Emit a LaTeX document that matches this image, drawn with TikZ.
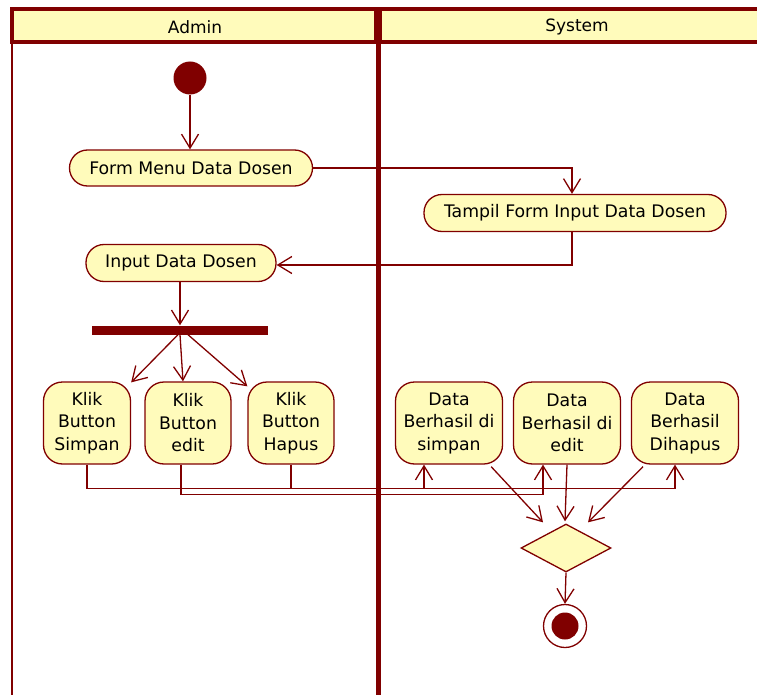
\documentclass[tikz,border=0pt]{standalone}
\usepackage{fontspec}
\setmainfont{DejaVu Sans}
\usetikzlibrary{arrows.meta,shapes.geometric}
\definecolor{umlred}{HTML}{800000}
\definecolor{umlfill}{HTML}{FFFBBB}
\tikzset{
  action/.style={draw=umlred, fill=umlfill, line width=1.3pt, rounded corners=18pt,
    align=center, inner sep=0pt, font=\fontsize{17.3}{22.5}\selectfont},
  tall/.style={action, rounded corners=19pt, minimum height=82pt},
  arr/.style={draw=umlred, line width=1.3pt, -{Straight Barb[length=14pt,width=17pt,line width=1.3pt]}},
  lanehead/.style={draw=umlred, fill=umlfill, line width=3.5pt},
}
\begin{document}
\begin{tikzpicture}[x=1pt,y=-1pt]
\useasboundingbox (0,0) rectangle (757,695);
\begin{scope}
\clip (0,0) rectangle (757,695);
% swimlanes
\draw[lanehead] (12,9) rectangle (376,42);
\draw[lanehead] (380,9) rectangle (770,42);
\draw[umlred, line width=2.5pt] (12,42) -- (12,700);
\draw[umlred, line width=5pt] (378,7.25) -- (378,700);
\node[font=\fontsize{17}{20}\selectfont] (hAdmin) at (195,27) {Admin};
\node[font=\fontsize{17}{20}\selectfont] (hSystem) at (577,27) {System};
\end{scope}

% start node
\node[circle, fill=umlred, minimum size=33pt, inner sep=0pt] (start) at (190,78) {};

% actions
\node[action, minimum width=243pt, minimum height=36pt] (form) at (191,168) {Form Menu Data Dosen};
\node[action, minimum width=302pt, minimum height=37pt] (tampil) at (575,213) {Tampil Form Input Data Dosen};
\node[action, minimum width=190pt, minimum height=37pt] (input) at (181,263) {Input Data Dosen};

% fork bar
\node[rectangle, fill=umlred, minimum width=176pt, minimum height=9pt, inner sep=0pt] (bar) at (180,330) {};

\node[tall, minimum width=87pt] (simpan) at (87,423) {Klik\\Button\\Simpan};
\node[tall, minimum width=86pt] (edit) at (188,423) {Klik\\Button\\edit};
\node[tall, minimum width=86pt] (hapus) at (291,423) {Klik\\Button\\Hapus};

\node[tall, minimum width=107pt] (dsimpan) at (449,423) {Data\\Berhasil di\\simpan};
\node[tall, minimum width=107pt] (dedit) at (567,423) {Data\\Berhasil di\\edit};
\node[tall, minimum width=107pt] (dhapus) at (685,423) {Data\\Berhasil\\Dihapus};

% merge and end
\node[diamond, draw=umlred, fill=umlfill, line width=1.3pt, minimum width=90pt, minimum height=48pt, inner sep=0pt] (dec) at (566,548) {};
\node[circle, draw=umlred, fill=white, line width=1.3pt, minimum size=43pt, inner sep=0pt] (final) at (565,626) {};
\node[circle, fill=umlred, minimum size=27pt, inner sep=0pt] (finalin) at (565,626) {};

% flows
\draw[arr] (start.south) -- (start.south |- form.north);
\draw[arr] (form.east) -| ([xshift=-3pt]tampil.north);
\draw[arr] ([xshift=-3pt]tampil.south) |- ([yshift=-2pt]input.east);
\draw[arr] ([xshift=-1pt]input.south) -- ([xshift=-1pt]input.south |- bar.north);
\draw[arr] ([xshift=-2pt]bar.south) -- ([yshift=-1pt]simpan.north east);
\draw[arr] (bar.south) -- ([xshift=-5pt]edit.north);
\draw[arr] ([xshift=8pt]bar.south) -- ([yshift=-5pt]hapus.north west);

\draw[arr] (simpan.south) -- ++(0,24) -| ([xshift=-25pt]dsimpan.south);
\draw[arr] ([xshift=-7pt]edit.south) -- ++(0,30) -| ([xshift=-24pt]dedit.south);
\draw[arr] (hapus.south) -- ++(0,24) -| ([xshift=-10pt]dhapus.south);

\draw[arr] ([xshift=-12pt,yshift=-2pt]dsimpan.south east) -- ([xshift=-23pt,yshift=1pt]dec.north);
\draw[arr] (dedit.south) -- ([xshift=-1pt,yshift=2pt]dec.north);
\draw[arr] ([xshift=-42pt,yshift=-2pt]dhapus.south) -- ([xshift=22pt,yshift=1pt]dec.north);
\draw[arr] (dec.south) -- (final.north);
\end{tikzpicture}
\end{document}
